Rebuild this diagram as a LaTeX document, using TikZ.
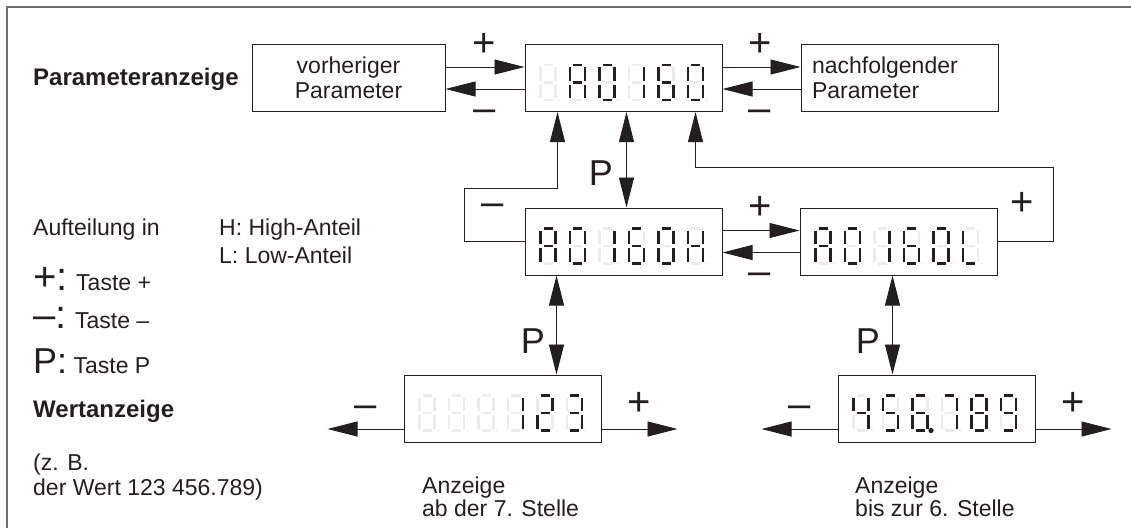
\documentclass[tikz,border=0pt]{standalone}
\usepackage{fontspec}
\setmainfont{Liberation Sans}
\usetikzlibrary{arrows.meta, positioning, calc}
\definecolor{ink}{RGB}{35,31,32}
\definecolor{segdim}{RGB}{236,236,236}
\definecolor{framegray}{RGB}{110,110,110}
\newcommand{\txtfont}{\fontsize{23}{25}\selectfont}
\newcommand{\ttlfont}{\fontsize{24}{26}\selectfont\bfseries}
\newcommand{\keyfont}{\fontsize{40}{40}\selectfont}
\newcommand{\pfont}{\fontsize{36}{36}\selectfont}
\tikzset{
  disp/.style={rectangle, draw=ink, line width=1pt,
    minimum width=197pt, minimum height=67pt, inner sep=0pt},
  txtbox/.style={disp, minimum width=193pt, font=\txtfont, text=ink},
  arr/.style={-{Triangle[length=30pt,width=15pt]}, line width=0.9pt, draw=ink},
  dblarr/.style={{Triangle[length=30pt,width=15pt]}-{Triangle[length=30pt,width=15pt]},
    line width=0.9pt, draw=ink},
  signlbl/.style={font=\keyfont, text=ink, inner sep=0pt, anchor=base},
  plbl/.style={font=\pfont, text=ink, inner sep=0pt, anchor=base east},
  lbl/.style={font=\txtfont, text=ink, inner sep=0pt, anchor=base west},
  segoff/.style={line width=2.2pt, draw=segdim},
  segon/.style={line width=2.2pt, draw=ink},
  pageframe/.style={line width=2pt, draw=framegray},
  pics/sevenseg/.style={code={
    \coordinate (sa1) at (3,0);     \coordinate (sa2) at (12,0);
    \coordinate (sb1) at (15,2);    \coordinate (sb2) at (15,15.5);
    \coordinate (sc1) at (15,19.5); \coordinate (sc2) at (15,33);
    \coordinate (sd1) at (3,35);    \coordinate (sd2) at (12,35);
    \coordinate (se1) at (0,19.5);  \coordinate (se2) at (0,33);
    \coordinate (sf1) at (0,2);     \coordinate (sf2) at (0,15.5);
    \coordinate (sg1) at (3,17.5);  \coordinate (sg2) at (12,17.5);
    \coordinate (sx1) at (0,0);     \coordinate (sx2) at (0,0);
    \foreach \s in {a,b,c,d,e,f,g}
      \draw[segoff] (s\s1) -- (s\s2);
    \fill[segdim] (18.5,35) circle (1.2pt);
    \foreach \s in #1
      \draw[segon] (s\s1) -- (s\s2);
  }}
}

\begin{document}
\begin{tikzpicture}[x=1pt, y=-1pt]
  \useasboundingbox (0,0) rectangle (1131,528);
  \draw[pageframe] (7,528) -- (7,7) -- (1131,7);

  % Parameteranzeige
  \node[txtbox, align=center] (prev) at (348.5,78) {vorheriger\\Parameter};
  \node[disp, right=79pt of prev] (par) {};
  \node[txtbox, minimum width=197pt, right=78pt of par, align=left,
    text width=175pt, inner xsep=11pt] (next) {nachfolgender\\Parameter};

  % High/Low
  \node[disp] (hl) at (623.5,241.5) {};
  \node[disp, right=77pt of hl] (hr) {};

  % Wertanzeige
  \node[disp] (bl) at (502.5,408.5) {};
  \node[disp] (br) at (936.5,408.5) {};

  % segments
  \foreach \c [count=\i from 0] in {x, {a,b,c,e,f,g}, {a,b,c,d,e,f}, {b,c}, {a,c,d,e,f,g}, {a,b,c,d,e,f}}
    \pic at ([shift={(16+29.5*\i,21)}]par.north west) {sevenseg=\c};
  \foreach \c [count=\i from 0] in {{a,b,c,e,f,g}, {a,b,c,d,e,f}, {b,c}, {a,c,d,e,f,g}, {a,b,c,d,e,f}, {b,c,e,f,g}}
    \pic at ([shift={(16+29.5*\i,21)}]hl.north west) {sevenseg=\c};
  \foreach \c [count=\i from 0] in {{a,b,c,e,f,g}, {a,b,c,d,e,f}, {b,c}, {a,c,d,e,f,g}, {a,b,c,d,e,f}, {d,e,f}}
    \pic at ([shift={(16+29.5*\i,21)}]hr.north west) {sevenseg=\c};
  \foreach \c [count=\i from 0] in {x, x, x, {b,c}, {a,b,d,e,g}, {a,b,c,d,g}}
    \pic at ([shift={(16+29.5*\i,21)}]bl.north west) {sevenseg=\c};
  \foreach \c [count=\i from 0] in {{b,c,f,g}, {a,c,d,f,g}, {a,c,d,e,f,g}, {a,b,c}, {a,b,c,d,e,f,g}, {a,b,c,d,f,g}}
    \pic at ([shift={(16+29.5*\i,21)}]br.north west) {sevenseg=\c};
  \fill[ink] ([shift={(93.5,56)}]br.north west) circle (2.6pt);

  % + / - between the boxes
  \draw[arr] ([yshift=11pt]prev.east) -- ([yshift=11pt]par.west);
  \draw[arr] ([yshift=-11pt]par.west) -- ([yshift=-11pt]prev.east);
  \draw[arr] ([yshift=11pt]par.east) -- ([yshift=11pt]next.west);
  \draw[arr] ([yshift=-11pt]next.west) -- ([yshift=-11pt]par.east);
  \draw[arr] ([yshift=11pt]hl.east) -- ([yshift=11pt]hr.west);
  \draw[arr] ([yshift=-11pt]hr.west) -- ([yshift=-11pt]hl.east);

  % loops back to the parameter
  \coordinate (lloop) at (464,188);
  \coordinate (rloop) at (1053,167);
  \draw[arr] (hl.west) -| (lloop) -| ([xshift=33pt]par.south west);
  \draw[arr] (hr.east) -| (rloop) -| ([xshift=-27pt]par.south east);

  % P keys
  \coordinate (p1) at ([xshift=3pt]par.south);
  \coordinate (p2) at ([xshift=32pt]hl.south west);
  \coordinate (p3) at ([xshift=93pt]hr.south west);
  \draw[dblarr] (p1) -- (p1 |- hl.north);
  \draw[dblarr] (p2) -- (p2 |- bl.north);
  \draw[dblarr] (p3) -- (p3 |- br.north);

  % value arrows
  \coordinate (blm) at ([shift={(-76pt,-20.5pt)}]bl.west);
  \coordinate (blp) at ([shift={(76pt,-20.5pt)}]bl.east);
  \coordinate (brm) at ([shift={(-76pt,-20.5pt)}]br.west);
  \coordinate (brp) at ([shift={(76pt,-20.5pt)}]br.east);
  \draw[arr] (bl.west |- blm) -- (blm);
  \draw[arr] (bl.east |- blp) -- (blp);
  \draw[arr] (br.west |- brm) -- (brm);
  \draw[arr] (br.east |- brp) -- (brp);

  % key labels
  \node[signlbl] (s1) at (484.5,56) {+};
  \node[signlbl] (s2) at (484.5,121) {–};
  \node[signlbl] (s3) at (760,56) {+};
  \node[signlbl] (s4) at (760,121) {–};
  \node[signlbl] (s5) at (760,219) {+};
  \node[signlbl] (s6) at (760,284) {–};
  \node[signlbl] (s7) at (493,215) {–};
  \node[signlbl] (s8) at (1022,215) {+};
  \node[signlbl] (s9) at (366,417) {–};
  \node[signlbl] (s10) at (639,415) {+};
  \node[signlbl] (s11) at (800,417) {–};
  \node[signlbl] (s12) at (1073,415) {+};
  \node[plbl] (k1) at (613,185) {P};
  \node[plbl] (k2) at (545,353) {P};
  \node[plbl] (k3) at (880,353) {P};

  % legend
  \node[lbl, font=\ttlfont] (ttl) at (33,85) {Parameteranzeige};
  \node[lbl] (auf) at (33,235) {Aufteilung in};
  \node[lbl] (hi) at (219,235) {H: High-Anteil};
  \node[lbl] (lo) at (219,263) {L: Low-Anteil};
  \node[lbl] (kp) at (33,290) {{\keyfont +:} Taste +};
  \node[lbl] (km) at (33,328) {{\keyfont –:} Taste –};
  \node[lbl] (kk) at (33,373) {{\pfont P:} Taste P};
  \node[lbl, font=\ttlfont] (wert) at (33,417) {Wertanzeige};
  \node[lbl] (zb) at (33,470) {(z. B.};
  \node[lbl] (zb2) at (33,495) {der Wert 123 456.789)};
  \node[lbl] (an1) at (422,493) {Anzeige};
  \node[lbl] (an2) at (422,516) {ab der 7. Stelle};
  \node[lbl] (an3) at (855,493) {Anzeige};
  \node[lbl] (an4) at (855,516) {bis zur 6. Stelle};
\end{tikzpicture}
\end{document}
